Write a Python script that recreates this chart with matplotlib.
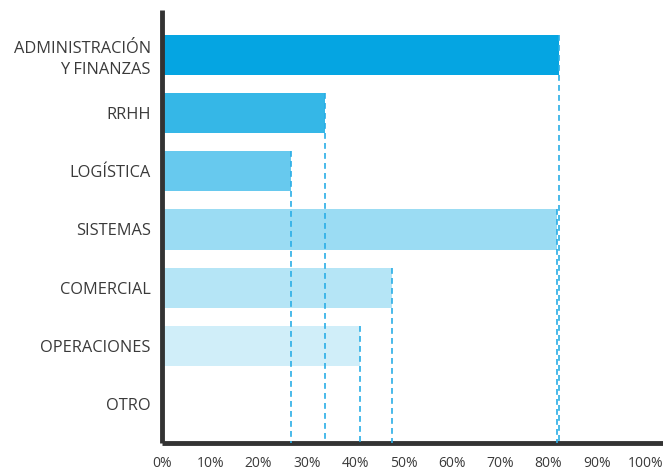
import matplotlib.pyplot as plt

plt.rcParams['font.family'] = ['Open Sans', 'DejaVu Sans']

areas = ['ADMINISTRACIÓN\nY FINANZAS', 'RRHH', 'LOGÍSTICA', 'SISTEMAS',
         'COMERCIAL', 'OPERACIONES', 'OTRO']
valores = [82.2, 33.7, 26.7, 81.7, 47.6, 41.0, 0]
colores = ['#05a5e2', '#35b7e7', '#67c9ee', '#9bdcf3', '#b5e5f6', '#d0eef9', '#ffffff']
ticks = [0, 10, 20, 30, 40, 50, 60, 70, 80, 90, 100]

fig = plt.figure(figsize=(6.63, 4.73), dpi=100)
ax = fig.add_axes([0.2443, 0.0634, 1 - 0.2443, 0.979 - 0.0634])

y = list(range(len(areas)))
alto = 0.69
ax.barh(y, valores, height=alto, color=colores, zorder=2)

# lineas punteadas desde el final de cada barra hasta el eje
for yi, v in zip(y, valores):
    if v > 0:
        ax.vlines(v, yi - alto / 2, 6.67, colors='#2aaee6', linewidth=1.2,
                  linestyles=(0, (3.5, 2.5)), zorder=3)

ax.set_xlim(0, 103.7)
ax.set_ylim(6.67, -0.774)
ax.set_yticks(y)
ax.set_yticklabels(areas, fontsize=11.8, color='#3a3a3a', linespacing=1.45)
for lbl in ax.get_yticklabels():
    lbl.set_multialignment('right')
ax.set_xticks(ticks)
ax.set_xticklabels([f'{t}%' for t in ticks], fontsize=10, color='#3a3a3a')
ax.tick_params(axis='both', length=0)
ax.tick_params(axis='y', pad=8)
ax.tick_params(axis='x', pad=9)

for s in ['top', 'right']:
    ax.spines[s].set_visible(False)
for s in ['left', 'bottom']:
    ax.spines[s].set_linewidth(3.5)
    ax.spines[s].set_color('#333333')
    ax.spines[s].set_capstyle('butt')

fig.savefig('out.png', dpi=100)
